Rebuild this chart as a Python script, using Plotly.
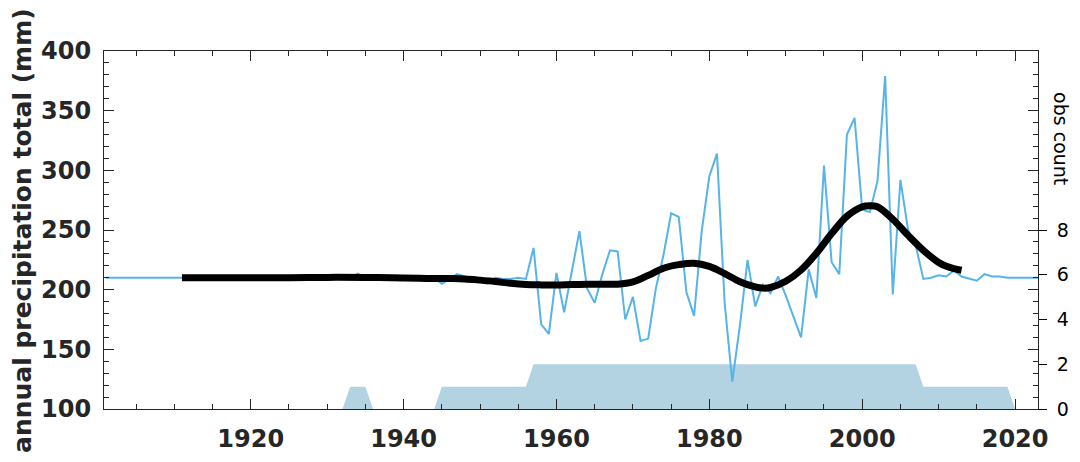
import plotly.graph_objects as go

# ---------------- data ----------------
years = list(range(1901, 2024))

precip_mm = [
    210, 210, 210, 210, 210, 210, 210, 210, 210, 210,          # 1901-1910
    210, 210, 210, 210, 210, 210, 210, 210, 210, 210,          # 1911-1920
    210, 210, 210, 210, 210, 210, 210, 210, 210, 210,          # 1921-1930
    210, 210, 210, 213.5, 210, 210, 210, 210, 210, 210,        # 1931-1940
    210, 210, 210, 210, 205, 209, 213, 211, 209, 207,          # 1941-1950
    205, 210, 209, 209, 210, 209, 235, 171, 163, 214,          # 1951-1960
    181, 215, 249, 201, 189, 213, 233, 232, 175, 194,          # 1961-1970
    157, 159, 201, 229, 264, 261, 198, 178, 249, 295,          # 1971-1980
    314, 189, 123, 170, 225, 186, 204, 197, 211, 195,          # 1981-1990
    178, 160, 217, 193, 304, 223, 213, 330, 344, 267,          # 1991-2000
    265, 291, 379, 196, 292, 250, 237, 209, 210, 212,          # 2001-2010
    211, 216, 211, 209, 207.5, 213, 211, 211, 210, 210,        # 2011-2020
    210, 210, 210,                                             # 2021-2023
]

obs_count = [
    0, 0, 0, 0, 0, 0, 0, 0, 0, 0,      # 1901-1910
    0, 0, 0, 0, 0, 0, 0, 0, 0, 0,      # 1911-1920
    0, 0, 0, 0, 0, 0, 0, 0, 0, 0,      # 1921-1930
    0, 0, 1, 1, 1, 0, 0, 0, 0, 0,      # 1931-1940
    0, 0, 0, 0, 1, 1, 1, 1, 1, 1,      # 1941-1950
    1, 1, 1, 1, 1, 1, 2, 2, 2, 2,      # 1951-1960
    2, 2, 2, 2, 2, 2, 2, 2, 2, 2,      # 1961-1970
    2, 2, 2, 2, 2, 2, 2, 2, 2, 2,      # 1971-1980
    2, 2, 2, 2, 2, 2, 2, 2, 2, 2,      # 1981-1990
    2, 2, 2, 2, 2, 2, 2, 2, 2, 2,      # 1991-2000
    2, 2, 2, 2, 2, 2, 2, 1, 1, 1,      # 2001-2010
    1, 1, 1, 1, 1, 1, 1, 1, 1, 0,      # 2011-2020
    0, 0, 0,                           # 2021-2023
]

smooth_years = [1911, 1915, 1920, 1925, 1930, 1935, 1940, 1943, 1946, 1948,
                1950, 1952, 1954, 1956, 1958, 1960, 1962, 1964, 1966, 1968,
                1970, 1972, 1974, 1976, 1978, 1980, 1982, 1984, 1986, 1987,
                1988, 1990, 1992, 1994, 1996, 1998, 2000, 2001, 2002, 2004,
                2006, 2008, 2010, 2011, 2012, 2013]
smooth_mm = [210, 210, 210, 210, 210.3, 210.2, 209.8, 209.4, 209.3, 209,
             208, 206.8, 205.3, 204.3, 204, 204, 204.3, 204.5, 204.6, 204.6,
             206.5, 212, 218, 221, 222.2, 219.5, 213.5, 206.7, 202.3, 201.3,
             201.8, 207, 216.5, 230.5, 247, 261.5, 269.5, 270.4, 269.5, 259,
             245.5, 233, 222.8, 219.6, 217.7, 216.3]

x_ticks = [1920, 1940, 1960, 1980, 2000, 2020]
count_ticks = [0, 2, 4, 6, 8]

# ---------------- styles ----------------
AX = "#262626"
FONT = "DejaVu Sans"

fig = go.Figure()

fig.add_trace(go.Scatter(
    x=years, y=obs_count, yaxis="y", mode="lines",
    line=dict(width=0, color="#B3D3E3"), fill="tozeroy",
    fillcolor="#B3D3E3", hoverinfo="skip"))

fig.add_trace(go.Scatter(
    x=years, y=precip_mm, yaxis="y2", mode="lines",
    line=dict(width=2, color="#56B4E9")))

fig.add_trace(go.Scatter(
    x=smooth_years, y=smooth_mm, yaxis="y2", mode="lines",
    line=dict(width=7, color="black", shape="spline", smoothing=1)))

fig.update_layout(
    width=1072, height=454,
    margin=dict(l=96, r=42, t=43, b=53),
    plot_bgcolor="white", paper_bgcolor="white",
    showlegend=False,
    xaxis=dict(
        range=[1900.8, 2023], tickvals=x_ticks, automargin=False,
        ticks="inside", ticklen=10, tickwidth=1, tickcolor=AX,
        minor=dict(dtick=5, ticks="inside", ticklen=5, tickcolor=AX, tickwidth=1),
        showline=True, linecolor=AX, linewidth=1, mirror="ticks",
        showgrid=False, zeroline=False,
        tickfont=dict(family=FONT, size=24, color=AX, weight="bold"),
        ticklabelstandoff=8,
    ),
    yaxis=dict(
        side="right", range=[0, 16], tickvals=count_ticks, automargin=False,
        ticks="outside", ticklen=8, tickcolor="black", tickwidth=1,
        showline=True, linecolor=AX, linewidth=1,
        showgrid=False, zeroline=False,
        tickfont=dict(family=FONT, size=19, color="black"),
        ticklabelstandoff=6,
    ),
    yaxis2=dict(
        overlaying="y", side="left", range=[100, 400], tick0=100, dtick=50,
        automargin=False,
        ticks="inside", ticklen=10, tickcolor=AX, tickwidth=1,
        minor=dict(dtick=10, ticks="inside", ticklen=5, tickcolor=AX, tickwidth=1),
        showline=True, linecolor=AX, linewidth=1, mirror="ticks",
        showgrid=False, zeroline=False,
        tickfont=dict(family=FONT, size=24, color=AX, weight="bold"),
        ticklabelstandoff=7,
    ),
    annotations=[
        dict(text="annual precipitation total (mm)", xref="paper", yref="paper",
             x=-0.0878, y=0.5, xanchor="center", yanchor="middle",
             textangle=-90, showarrow=False,
             font=dict(family=FONT, size=25, color=AX, weight="bold")),
        dict(text="obs count", xref="paper", yref="paper",
             x=1.0246, y=0.754, xanchor="center", yanchor="middle",
             textangle=90, showarrow=False,
             font=dict(family=FONT, size=19, color="black")),
    ],
)

fig.write_html("out.html")
